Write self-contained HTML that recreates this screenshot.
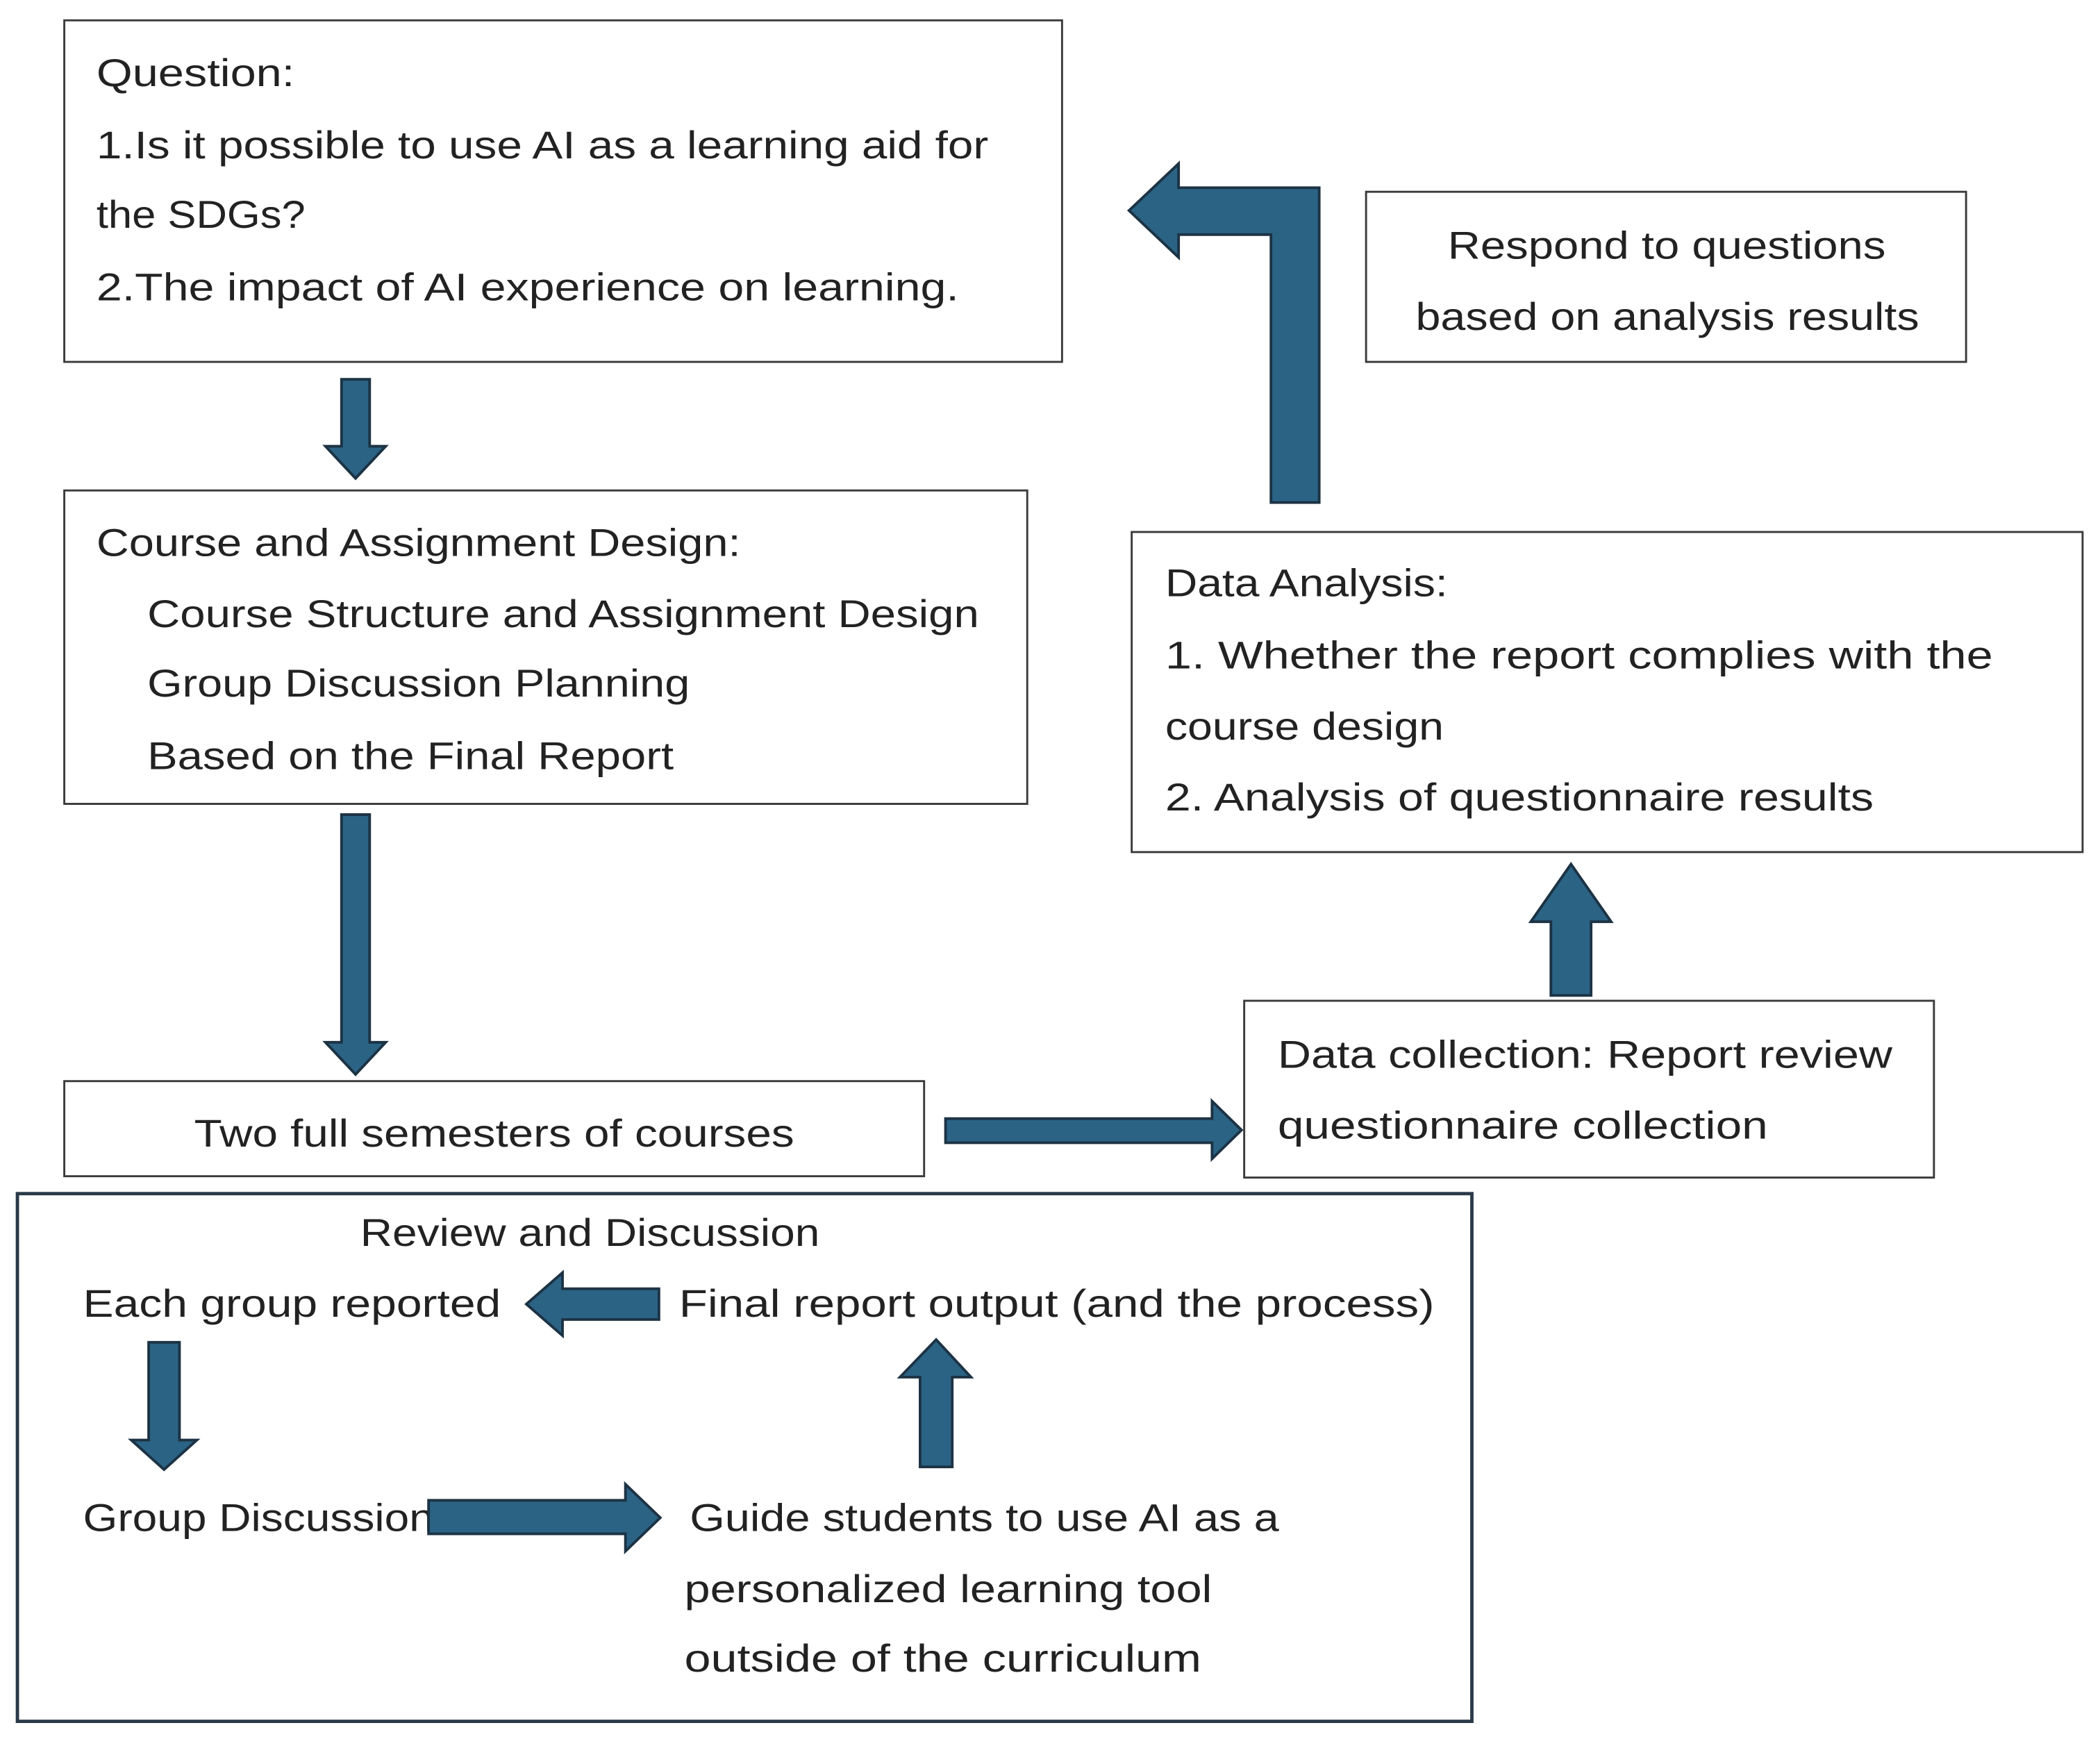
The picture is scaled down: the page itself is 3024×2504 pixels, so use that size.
<!DOCTYPE html>
<html><head><meta charset="utf-8"><style>
html,body{margin:0;padding:0;background:#fff;}
svg{display:block;}
text{font-family:"Liberation Sans",sans-serif;font-size:29px;fill:#222;}
</style></head><body>
<svg width="3024" height="2504" viewBox="0 0 1568 1298" xmlns="http://www.w3.org/2000/svg">
<rect width="1568" height="1298" fill="#fff"/>
<g fill="#fff" stroke="#3a3a3a" stroke-width="1.5">
<rect x="48" y="15" width="745" height="255"/>
<rect x="1020" y="143" width="448" height="127"/>
<rect x="48" y="366" width="719" height="234"/>
<rect x="845" y="397" width="710" height="239"/>
<rect x="48" y="807" width="642" height="71"/>
<rect x="929" y="747" width="515" height="132"/>
<rect x="13" y="891" width="1086" height="394" stroke-width="2.5" stroke="#2a3a48"/>
</g>
<g lengthAdjust="spacingAndGlyphs">
<text x="72" y="64" textLength="148" lengthAdjust="spacingAndGlyphs">Question:</text>
<text x="72" y="118" textLength="666" lengthAdjust="spacingAndGlyphs">1.Is it possible to use AI as a learning aid for</text>
<text x="72" y="170" textLength="156" lengthAdjust="spacingAndGlyphs">the SDGs?</text>
<text x="72" y="224" textLength="644" lengthAdjust="spacingAndGlyphs">2.The impact of AI experience on learning.</text>
<text x="1081" y="193" textLength="327" lengthAdjust="spacingAndGlyphs">Respond to questions</text>
<text x="1057" y="246" textLength="376" lengthAdjust="spacingAndGlyphs">based on analysis results</text>
<text x="72" y="415" textLength="481" lengthAdjust="spacingAndGlyphs">Course and Assignment Design:</text>
<text x="110" y="468" textLength="621" lengthAdjust="spacingAndGlyphs">Course Structure and Assignment Design</text>
<text x="110" y="520" textLength="405" lengthAdjust="spacingAndGlyphs">Group Discussion Planning</text>
<text x="110" y="574" textLength="393" lengthAdjust="spacingAndGlyphs">Based on the Final Report</text>
<text x="870" y="445" textLength="211" lengthAdjust="spacingAndGlyphs">Data Analysis:</text>
<text x="870" y="499" textLength="618" lengthAdjust="spacingAndGlyphs">1. Whether the report complies with the</text>
<text x="870" y="552" textLength="208" lengthAdjust="spacingAndGlyphs">course design</text>
<text x="870" y="605" textLength="529" lengthAdjust="spacingAndGlyphs">2. Analysis of questionnaire results</text>
<text x="145" y="856" textLength="448" lengthAdjust="spacingAndGlyphs">Two full semesters of courses</text>
<text x="954" y="797" textLength="459" lengthAdjust="spacingAndGlyphs">Data collection: Report review</text>
<text x="954" y="850" textLength="366" lengthAdjust="spacingAndGlyphs">questionnaire collection</text>
<text x="269" y="930" textLength="343" lengthAdjust="spacingAndGlyphs">Review and Discussion</text>
<text x="62" y="983" textLength="312" lengthAdjust="spacingAndGlyphs">Each group reported</text>
<text x="507" y="983" textLength="564" lengthAdjust="spacingAndGlyphs">Final report output (and the process)</text>
<text x="62" y="1143" textLength="262" lengthAdjust="spacingAndGlyphs">Group Discussion</text>
<text x="515" y="1143" textLength="440" lengthAdjust="spacingAndGlyphs">Guide students to use AI as a</text>
<text x="511" y="1196" textLength="394" lengthAdjust="spacingAndGlyphs">personalized learning tool</text>
<text x="511" y="1248" textLength="386" lengthAdjust="spacingAndGlyphs">outside of the curriculum</text>
</g>
<g fill="#2b6385" stroke="#1c3344" stroke-width="2" stroke-linejoin="miter">
<!-- down 1 -->
<polygon points="255,283 276,283 276,333 288,333 265.5,357 243,333 255,333"/>
<!-- down 2 -->
<polygon points="255,608 276,608 276,778 288,778 265.5,802 243,778 255,778"/>
<!-- right: two full -> collection -->
<polygon points="706,835 905,835 905,822 927,843.5 905,865 905,853 706,853"/>
<!-- up: collection -> analysis -->
<polygon points="1158,743 1188,743 1188,688 1203,688 1173,645 1143,688 1158,688"/>
<!-- bent arrow -->
<polygon points="949,375 985,375 985,140 880,140 880,122 843,157 880,192 880,175 949,175"/>
<!-- left inside -->
<polygon points="492,962 492,985 420,985 420,997 393,973.5 420,950 420,962"/>
<!-- down inside -->
<polygon points="111,1002 134,1002 134,1075 147,1075 122.5,1097 98,1075 111,1075"/>
<!-- up inside -->
<polygon points="687,1095 711,1095 711,1028 725,1028 699,1000 672,1028 687,1028"/>
<!-- right inside -->
<polygon points="320,1120 467,1120 467,1108 493,1133 467,1158 467,1145 320,1145"/>
</g>
</svg>
</body></html>
